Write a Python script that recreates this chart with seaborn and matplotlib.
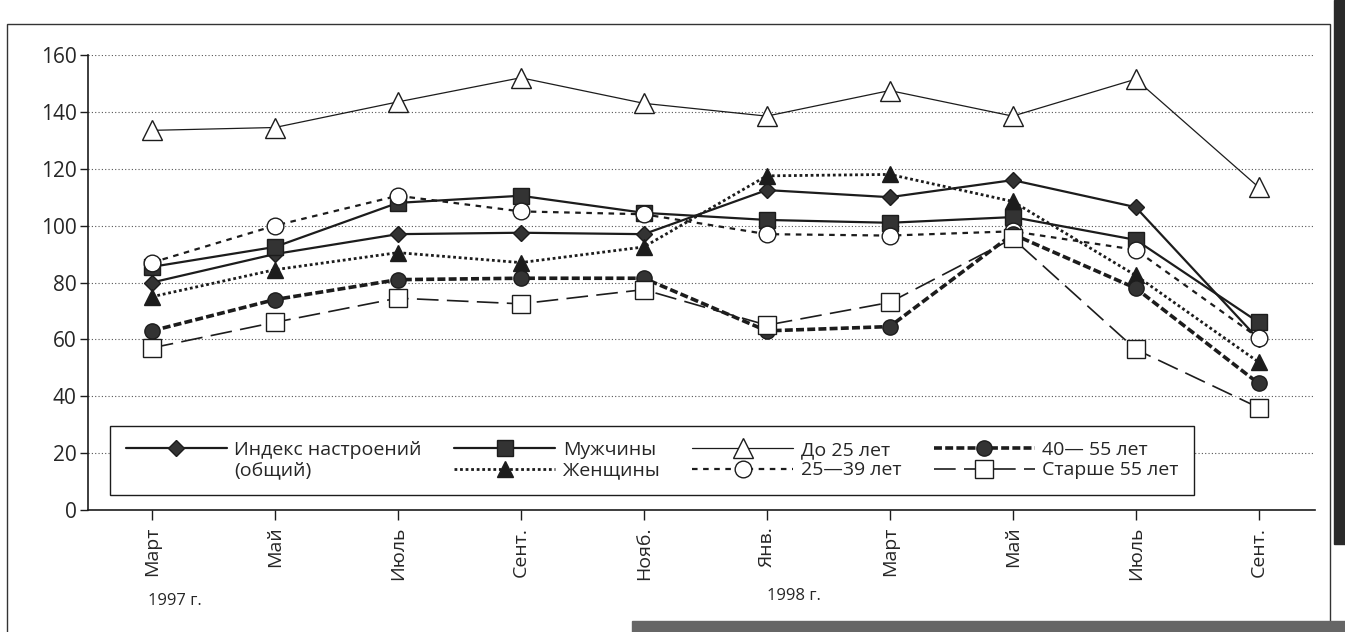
import matplotlib
matplotlib.use('Agg')
import matplotlib.pyplot as plt
import seaborn as sns
from matplotlib.lines import Line2D
from matplotlib.patches import Rectangle

# данные
months = ['Март', 'Май', 'Июль', 'Сент.', 'Нояб.', 'Янв.', 'Март', 'Май', 'Июль', 'Сент.']
pos = list(range(len(months)))
index_all = [80, 90, 97, 97.5, 97, 112.5, 110, 116, 106.5, 60]
men = [85.5, 92.5, 108, 110.5, 104.5, 102, 101, 103, 95, 66]
women = [75, 84.5, 90.5, 87, 92.5, 117.5, 118, 108.5, 82.5, 52]
under25 = [133.5, 134.5, 143.5, 152, 143, 138.5, 147.5, 138.5, 151.5, 113.5]
age25_39 = [87, 100, 110.5, 105, 104, 97, 96.5, 98, 91.5, 60.5]
age40_55 = [63, 74, 81, 81.5, 81.5, 63, 64.5, 97, 78, 44.5]
over55 = [57, 66, 74.5, 72.5, 77.5, 65, 73, 95.5, 56.5, 36]
years = ['1997 г.', '1998 г.']

sns.set_theme(style='white')
plt.rcParams['font.family'] = ['Open Sans', 'DejaVu Sans']

ink = '#1c1c1c'
fill = '#333333'

fig = plt.figure(figsize=(13.45, 6.32), dpi=100)
ax = fig.add_axes([0.0654, 0.193, 0.912, 0.72])

styles = [
    (index_all, dict(lw=1.6, linestyle='-', marker='D', markersize=8, markerfacecolor=fill)),
    (men, dict(lw=1.6, linestyle='-', marker='s', markersize=11.5, markerfacecolor=fill)),
    (under25, dict(lw=0.9, linestyle='-', marker='^', markersize=14, markerfacecolor='white')),
    (women, dict(lw=2.0, linestyle=(0, (1, 1)), marker='^', markersize=11, markerfacecolor=ink)),
    (age25_39, dict(lw=1.6, linestyle=(0, (2.5, 2.5)), marker='o', markersize=12, markerfacecolor='white')),
    (age40_55, dict(lw=2.6, linestyle=(0, (2.2, 0.9)), marker='o', markersize=11, markerfacecolor=fill)),
    (over55, dict(lw=1.2, linestyle=(0, (13, 5)), marker='s', markersize=13, markerfacecolor='white')),
]

handles = []
for vals, st in styles:
    sns.lineplot(x=pos, y=vals, ax=ax, color=ink, markeredgecolor=ink,
                 markeredgewidth=1.0, **st)
    handles.append(ax.lines[-1])

blank = Line2D([], [], linestyle='none')
leg_handles = [handles[0], blank, handles[1], handles[3], handles[2], handles[4], handles[5], handles[6]]
leg_labels = ['Индекс настроений', '(общий)', 'Мужчины', 'Женщины',
              'До 25 лет', '25—39 лет', '40— 55 лет', 'Старше 55 лет']
leg = ax.legend(leg_handles, leg_labels, ncol=4, loc='lower left',
                bbox_to_anchor=(0.018, 0.033, 0.884, 0.16), mode='expand',
                handlelength=5.2, handletextpad=0.4, labelspacing=0.12,
                borderpad=0.8, borderaxespad=0, fontsize=14, frameon=True,
                fancybox=False, edgecolor=ink, framealpha=1)
leg.get_frame().set_linewidth(1.0)

ax.set_xlim(-0.52, 9.455)
ax.set_ylim(0, 160)
ax.set_xticks(pos)
ax.set_xticklabels(months, rotation=90, fontsize=14)
ax.set_yticks(range(0, 161, 20))
ax.tick_params(axis='y', labelsize=15, left=True, length=6, width=1, color=ink, pad=2)
ax.tick_params(axis='x', bottom=True, length=7, width=1, color=ink, pad=5)
ax.set_xlabel('')
ax.set_ylabel('')

ax.yaxis.grid(True, linestyle=(0, (1, 2)), lw=0.8, color='#555555')
ax.xaxis.grid(False)
ax.set_axisbelow(True)
sns.despine(ax=ax)
for side in ['left', 'bottom']:
    ax.spines[side].set_color(ink)
    ax.spines[side].set_linewidth(1.2)

trans = ax.get_xaxis_transform()
ax.text(-0.03, -0.2, years[0], transform=trans, ha='left', va='center', fontsize=12)
ax.text(5.0, -0.19, years[1], transform=trans, ha='left', va='center', fontsize=12)

# рамка и тёмные края скана
fig.add_artist(Rectangle((0.005, -0.01), 0.984, 0.972, fill=False, lw=1.0,
                         ec='#333333', transform=fig.transFigure))
fig.add_artist(Rectangle((0.992, 0.14), 0.008, 0.86, color='#2a2a2a',
                         transform=fig.transFigure))
fig.add_artist(Rectangle((0.47, 0), 0.53, 0.018, color='#666666',
                         transform=fig.transFigure))

fig.savefig('out.png', dpi=100)
